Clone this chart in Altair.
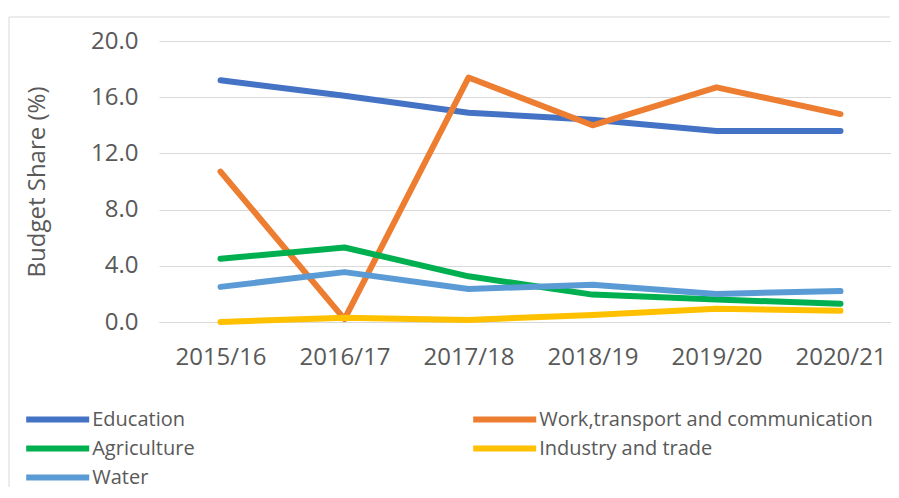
import json
import altair as alt
import pandas as pd

years = ["2015/16", "2016/17", "2017/18", "2018/19", "2019/20", "2020/21"]
series = ["Education", "Work,transport and communication", "Agriculture",
          "Industry and trade", "Water"]
colors = ["#4472C4", "#ED7D31", "#00B050", "#FFC000", "#5B9BD5"]

education = [17.2, 16.1, 14.9, 14.4, 13.6, 13.6]
work_transport = [10.7, 0.2, 17.4, 14.0, 16.7, 14.8]
agriculture = [4.5, 5.3, 3.25, 1.95, 1.6, 1.3]
industry_trade = [0.0, 0.3, 0.15, 0.5, 0.95, 0.8]
water = [2.5, 3.55, 2.35, 2.65, 2.0, 2.2]

values = [education, work_transport, agriculture, industry_trade, water]
rows = []
for i, (s, vals) in enumerate(zip(series, values)):
    for k, (y, v) in enumerate(zip(years, vals)):
        rows.append({"series": s, "year": y, "idx": k, "value": v, "order": i})
df = pd.DataFrame(rows)

# legend fills column by column: left column first, then right column
legend_order = [series[0], series[2], series[4], series[1], series[3]]
legend_colors = [colors[series.index(s)] for s in legend_order]

W, H = 732, 281
STEP = 124.0
FIRST = 61.5
FONT = "Open Sans"
TXT = "#595959"

x_domain = [-FIRST / STEP, (W - FIRST) / STEP]
label_expr = json.dumps(years) + "[round(datum.value)]"

lines = alt.Chart(df).mark_line(strokeWidth=6, strokeCap="round", strokeJoin="round").encode(
    x=alt.X("idx:Q", scale=alt.Scale(domain=x_domain, nice=False, zero=False),
            axis=alt.Axis(title=None, values=list(range(len(years))), labelExpr=label_expr,
                          labelAngle=0, labelFontSize=24, labelColor=TXT,
                          labelFont=FONT, labelPadding=23, ticks=False, grid=False,
                          labelFlush=False, labelOverlap=False,
                          domainColor="#d9d9d9", domainWidth=1)),
    y=alt.Y("value:Q", scale=alt.Scale(domain=[0, 20], nice=False),
            axis=alt.Axis(title="Budget Share (%)", values=[0, 4, 8, 12, 16, 20],
                          format=".1f", labelFontSize=24, labelColor=TXT, labelFont=FONT,
                          labelPadding=21, ticks=False, domain=False,
                          gridColor="#d9d9d9", gridWidth=1.2,
                          titleFontSize=24, titleFont=FONT, titleFontWeight="normal",
                          titleColor=TXT, titleX=-122, titleY=H / 2,
                          titleBaseline="middle")),
    color=alt.Color("series:N", scale=alt.Scale(domain=legend_order, range=legend_colors),
                    legend=alt.Legend(title=None, orient="none", legendX=-121.8, legendY=368.5,
                                      columns=2, columnPadding=266, rowPadding=5,
                                      symbolType="M-3,0H6", symbolSize=196,
                                      symbolStrokeWidth=6, labelFontSize=20,
                                      labelFont=FONT, labelColor=TXT, labelOffset=35,
                                      labelLimit=400)),
    order=alt.Order("order:Q"),
    detail="series:N",
)

one = pd.DataFrame({"a": [0]})
top_border = alt.Chart(one).mark_rule(color="#d9d9d9", strokeWidth=1).encode(
    x=alt.value(-150), x2=alt.value(W - 1), y=alt.value(-24))
left_border = alt.Chart(one).mark_rule(color="#d9d9d9", strokeWidth=1).encode(
    x=alt.value(-150), y=alt.value(-24), y2=alt.value(446))

chart = alt.layer(top_border, left_border, lines).properties(
    width=W, height=H,
    padding={"left": 0, "top": 8, "right": 0, "bottom": 0},
).configure_view(stroke=None)

chart.save("out.html", embed_options={"renderer": "svg", "actions": False})
